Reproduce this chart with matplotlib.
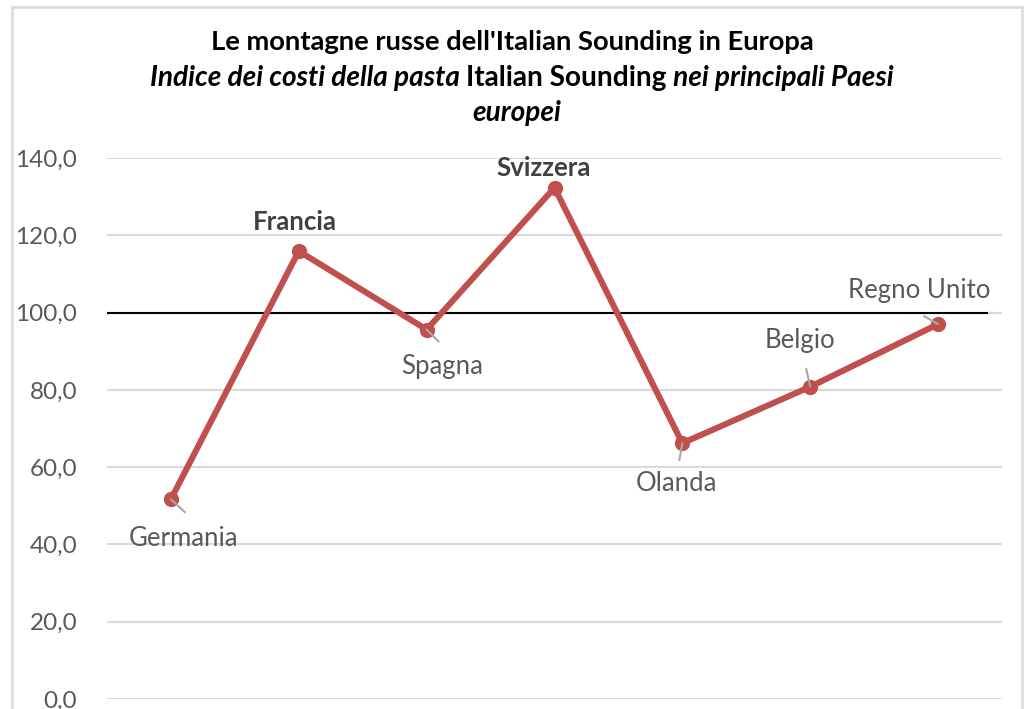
import matplotlib
matplotlib.use("Agg")
import matplotlib.pyplot as plt
from matplotlib.patches import Rectangle

countries = ["Germania", "Francia", "Spagna", "Svizzera", "Olanda", "Belgio", "Regno Unito"]
values = [51.7, 115.9, 95.6, 132.3, 66.2, 80.8, 97.0]
bold_labels = ["Francia", "Svizzera"]
# label offsets in pixels (dx, dy) relative to point, and leader flag
label_offsets = [(13, -39), (-4, 29), (15, -37), (-11, 20), (-6, -40), (-10, 46), (-19, 34)]
leader_ends = [(14, -13), None, (12, -12), None, (-3, -17), (-4, 18), (-14, 8)]
yticks = [0, 20, 40, 60, 80, 100, 120, 140]
ytick_labels = ["0,0", "20,0", "40,0", "60,0", "80,0", "100,0", "120,0", "140,0"]
reference = 100.0

FONT = ["Lato", "DejaVu Sans"]
W, H = 1024, 709
fig = plt.figure(figsize=(W / 100, H / 100), dpi=100)
PT = 0.72  # px -> pt at 100 dpi

def fx(px):
    return px / W

def fy(py):
    return 1 - py / H

# chart border
fig.patches.append(Rectangle((fx(12), fy(720)), fx(1022) - fx(12), fy(7) - fy(720),
                             transform=fig.transFigure, fill=False,
                             edgecolor="#D9D9D9", linewidth=1.8))

ax = fig.add_axes([fx(107), fy(699), fx(1002) - fx(107), fy(158) - fy(699)])
ax.set_xlim(0, 7)
ax.set_ylim(0, 140)
for s in ax.spines.values():
    s.set_visible(False)
ax.set_xticks([])
ax.set_yticks(yticks)
ax.set_yticklabels(ytick_labels, fontfamily=FONT, fontsize=17.5, color="#595959")
ax.tick_params(axis="y", length=0, pad=21.5)
ax.grid(axis="y", color="#D9D9D9", linewidth=1.5)
ax.set_axisbelow(True)
ax.patch.set_alpha(0)

xs = [i + 0.5 for i in range(len(values))]
ax.plot([0, 6.88], [reference, reference], color="black", linewidth=1.5, zorder=2)
ax.plot(xs, values, color="#C0504D", linewidth=4.4, marker="o", markersize=10,
        solid_capstyle="round", solid_joinstyle="round", zorder=3)

for x, v, name, (dx, dy), lead in zip(xs, values, countries, label_offsets, leader_ends):
    bold = name in bold_labels
    ax.annotate(name, xy=(x, v), xytext=(dx * PT, dy * PT), textcoords="offset points",
                ha="center", va="center", fontfamily=FONT, fontsize=18.5,
                fontweight="bold" if bold else "normal",
                color="#404040" if bold else "#595959", zorder=4)
    if lead is not None:
        ax.annotate("", xy=(x, v), xytext=(lead[0] * PT, lead[1] * PT), textcoords="offset points",
                    arrowprops=dict(arrowstyle="-", color="#A6A6A6", lw=1.5,
                                    shrinkA=0, shrinkB=0), zorder=4)

# title
fig.text(0.5, fy(42), "Le montagne russe dell'Italian Sounding in Europa",
         ha="center", va="center", fontfamily=FONT, fontsize=19.7, fontweight="bold", color="black")

pieces = [("Indice dei costi della pasta ", "italic"), ("Italian Sounding", "normal"),
          (" nei principali Paesi", "italic")]
fig.canvas.draw()
r = fig.canvas.get_renderer()
texts = []
total = 0
for t, st in pieces:
    tt = fig.text(0, fy(78), t, ha="left", va="center", fontfamily=FONT, fontsize=20.2,
                  fontweight="bold", style=st, color="black")
    w = tt.get_window_extent(renderer=r).width
    texts.append((tt, w))
    total += w
x0 = (W / 2 + 10) - total / 2
for tt, w in texts:
    tt.set_x(fx(x0))
    x0 += w
fig.text(fx(517), fy(113), "europei", ha="center", va="center", fontfamily=FONT, fontsize=20.2,
         fontweight="bold", style="italic", color="black")

fig.savefig("out.png", dpi=100)
